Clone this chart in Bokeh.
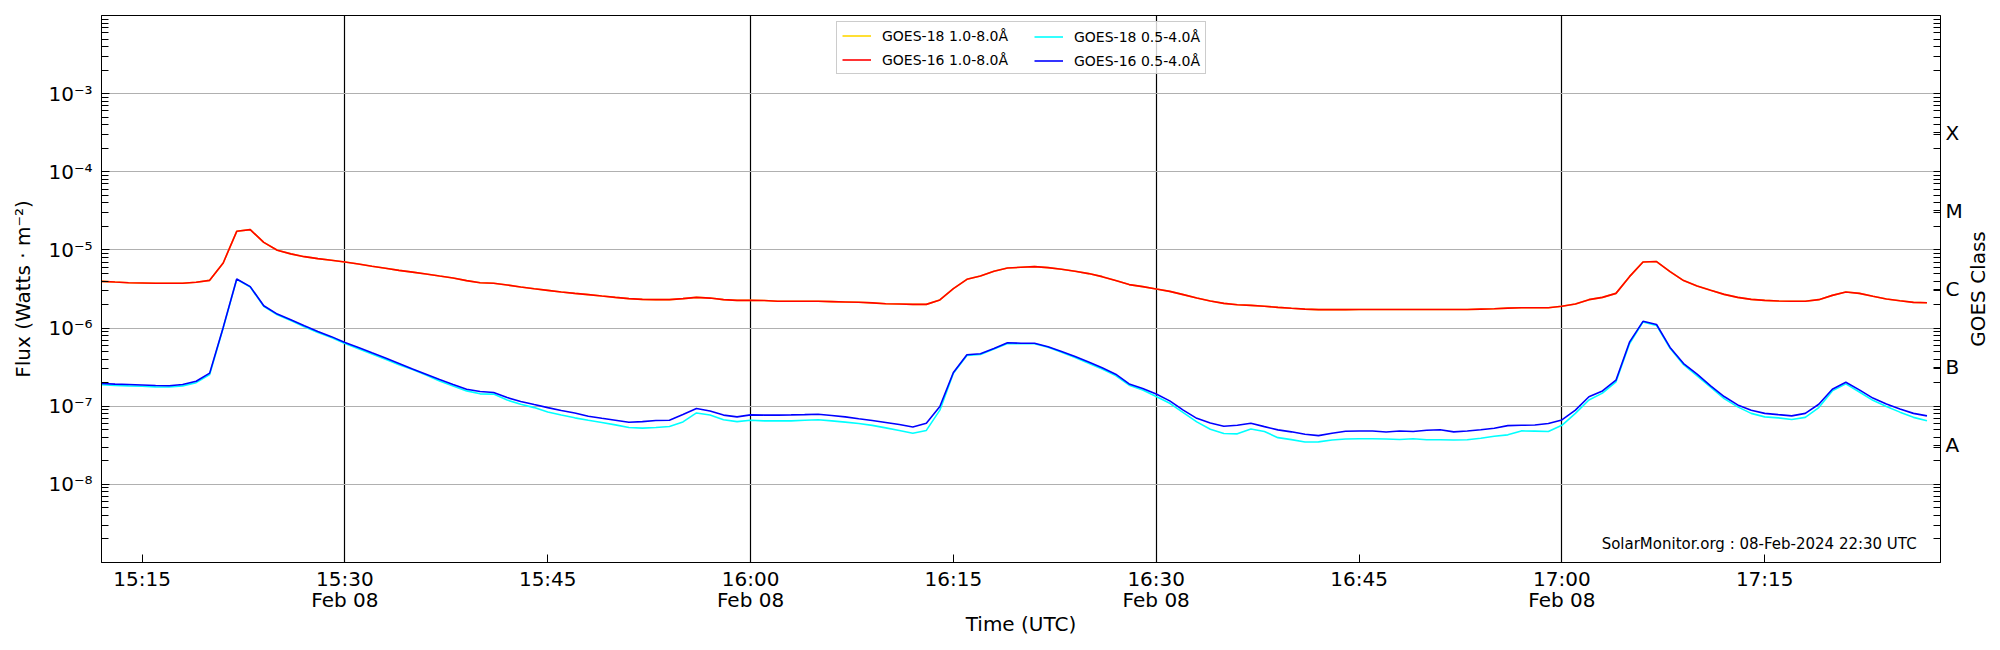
import math
import pandas as pd
from bokeh.plotting import figure
from bokeh.models import (Range1d, LogAxis, FixedTicker, CustomJSTickFormatter,
                          Legend, LegendItem, Label, ColumnDataSource)
from bokeh.embed import file_html
from bokeh.resources import INLINE

# ---------------- data (1-minute samples, 15:12 .. 17:27 UTC, 08 Feb 2024) ----------------
start_time = "2024-02-08 15:12"
n_points = 136

goes16_long = [
    3.96e-6, 3.88e-6, 3.81e-6, 3.78e-6, 3.74e-6, 3.74e-6, 3.74e-6, 3.85e-6, 4.08e-6, 6.81e-6,
    1.73e-5, 1.82e-5, 1.25e-5, 9.9e-6, 8.9e-6, 8.2e-6, 7.74e-6, 7.37e-6, 7.0e-6, 6.6e-6,
    6.18e-6, 5.82e-6, 5.48e-6, 5.2e-6, 4.93e-6, 4.64e-6, 4.38e-6, 4.05e-6, 3.81e-6, 3.74e-6,
    3.56e-6, 3.36e-6, 3.19e-6, 3.04e-6, 2.89e-6, 2.78e-6, 2.68e-6, 2.57e-6, 2.47e-6, 2.38e-6,
    2.33e-6, 2.31e-6, 2.31e-6, 2.38e-6, 2.47e-6, 2.42e-6, 2.31e-6, 2.26e-6, 2.26e-6, 2.25e-6,
    2.2e-6, 2.2e-6, 2.2e-6, 2.2e-6, 2.18e-6, 2.16e-6, 2.14e-6, 2.1e-6, 2.05e-6, 2.03e-6,
    2.01e-6, 2.01e-6, 2.29e-6, 3.19e-6, 4.21e-6, 4.64e-6, 5.33e-6, 5.87e-6, 6.0e-6, 6.11e-6,
    5.94e-6, 5.65e-6, 5.33e-6, 4.98e-6, 4.55e-6, 4.05e-6, 3.6e-6, 3.39e-6, 3.16e-6, 2.95e-6,
    2.68e-6, 2.42e-6, 2.22e-6, 2.07e-6, 1.99e-6, 1.95e-6, 1.9e-6, 1.84e-6, 1.79e-6, 1.75e-6,
    1.72e-6, 1.72e-6, 1.72e-6, 1.73e-6, 1.73e-6, 1.73e-6, 1.73e-6, 1.73e-6, 1.73e-6, 1.73e-6,
    1.73e-6, 1.73e-6, 1.75e-6, 1.77e-6, 1.8e-6, 1.82e-6, 1.82e-6, 1.82e-6, 1.9e-6, 2.03e-6,
    2.31e-6, 2.47e-6, 2.78e-6, 4.55e-6, 7.02e-6, 7.1e-6, 5.28e-6, 4.05e-6, 3.45e-6, 3.04e-6,
    2.7e-6, 2.47e-6, 2.33e-6, 2.26e-6, 2.22e-6, 2.2e-6, 2.2e-6, 2.31e-6, 2.62e-6, 2.9e-6,
    2.78e-6, 2.55e-6, 2.36e-6, 2.24e-6, 2.13e-6, 2.11e-6,
]

# GOES-18 long channel lies underneath the GOES-16 long channel (hidden in the picture)
goes18_long = list(goes16_long)

goes16_short = [
    1.95e-7, 1.92e-7, 1.9e-7, 1.87e-7, 1.84e-7, 1.83e-7, 1.9e-7, 2.09e-7, 2.65e-7, 1.02e-6,
    4.25e-6, 3.39e-6, 1.93e-6, 1.51e-6, 1.28e-6, 1.07e-6, 9.06e-7, 7.77e-7, 6.55e-7, 5.64e-7,
    4.83e-7, 4.14e-7, 3.53e-7, 3.0e-7, 2.57e-7, 2.2e-7, 1.9e-7, 1.65e-7, 1.54e-7, 1.5e-7,
    1.29e-7, 1.15e-7, 1.05e-7, 9.6e-8, 8.8e-8, 8.2e-8, 7.45e-8, 7.0e-8, 6.62e-8, 6.24e-8,
    6.35e-8, 6.55e-8, 6.62e-8, 7.82e-8, 9.33e-8, 8.7e-8, 7.7e-8, 7.3e-8, 7.74e-8, 7.7e-8,
    7.7e-8, 7.74e-8, 7.8e-8, 7.9e-8, 7.6e-8, 7.3e-8, 6.9e-8, 6.55e-8, 6.18e-8, 5.82e-8,
    5.43e-8, 6.06e-8, 9.9e-8, 2.7e-7, 4.55e-7, 4.7e-7, 5.48e-7, 6.48e-7, 6.4e-7, 6.4e-7,
    5.77e-7, 5.02e-7, 4.34e-7, 3.67e-7, 3.1e-7, 2.57e-7, 1.93e-7, 1.68e-7, 1.43e-7, 1.17e-7,
    8.9e-8, 7.0e-8, 6.1e-8, 5.54e-8, 5.7e-8, 6.05e-8, 5.48e-8, 4.98e-8, 4.7e-8, 4.37e-8,
    4.2e-8, 4.5e-8, 4.78e-8, 4.82e-8, 4.82e-8, 4.67e-8, 4.82e-8, 4.75e-8, 4.92e-8, 5.0e-8,
    4.7e-8, 4.82e-8, 5.0e-8, 5.23e-8, 5.65e-8, 5.7e-8, 5.75e-8, 6.0e-8, 6.68e-8, 8.9e-8,
    1.32e-7, 1.57e-7, 2.15e-7, 6.6e-7, 1.22e-6, 1.11e-6, 5.65e-7, 3.52e-7, 2.57e-7, 1.82e-7,
    1.33e-7, 1.04e-7, 8.9e-8, 8.1e-8, 7.8e-8, 7.52e-8, 8.1e-8, 1.06e-7, 1.65e-7, 2.03e-7,
    1.62e-7, 1.27e-7, 1.07e-7, 9.2e-8, 8.1e-8, 7.52e-8,
]

goes18_short = [
    1.88e-7, 1.85e-7, 1.82e-7, 1.8e-7, 1.77e-7, 1.76e-7, 1.82e-7, 2.0e-7, 2.55e-7, 1.0e-6,
    4.2e-6, 3.35e-6, 1.9e-6, 1.48e-6, 1.25e-6, 1.04e-6, 8.8e-7, 7.55e-7, 6.35e-7, 5.45e-7,
    4.65e-7, 3.98e-7, 3.4e-7, 2.95e-7, 2.5e-7, 2.1e-7, 1.82e-7, 1.57e-7, 1.44e-7, 1.43e-7,
    1.2e-7, 1.06e-7, 9.6e-8, 8.45e-8, 7.7e-8, 7.1e-8, 6.62e-8, 6.2e-8, 5.77e-8, 5.33e-8,
    5.25e-8, 5.33e-8, 5.5e-8, 6.3e-8, 8.2e-8, 7.7e-8, 6.7e-8, 6.35e-8, 6.62e-8, 6.5e-8,
    6.5e-8, 6.5e-8, 6.62e-8, 6.7e-8, 6.5e-8, 6.25e-8, 6.0e-8, 5.68e-8, 5.28e-8, 4.9e-8,
    4.51e-8, 4.9e-8, 8.9e-8, 2.65e-7, 4.45e-7, 4.6e-7, 5.38e-7, 6.35e-7, 6.3e-7, 6.3e-7,
    5.67e-7, 4.9e-7, 4.2e-7, 3.55e-7, 3.0e-7, 2.47e-7, 1.86e-7, 1.61e-7, 1.33e-7, 1.09e-7,
    8.3e-8, 6.3e-8, 5.07e-8, 4.47e-8, 4.43e-8, 5.12e-8, 4.74e-8, 3.96e-8, 3.74e-8, 3.49e-8,
    3.5e-8, 3.7e-8, 3.81e-8, 3.84e-8, 3.84e-8, 3.81e-8, 3.75e-8, 3.84e-8, 3.72e-8, 3.72e-8,
    3.7e-8, 3.72e-8, 3.9e-8, 4.12e-8, 4.3e-8, 4.83e-8, 4.8e-8, 4.75e-8, 5.7e-8, 8.1e-8,
    1.2e-7, 1.47e-7, 2.05e-7, 6.3e-7, 1.2e-6, 1.08e-6, 5.5e-7, 3.4e-7, 2.45e-7, 1.75e-7,
    1.25e-7, 9.8e-8, 8.1e-8, 7.3e-8, 7.1e-8, 6.75e-8, 7.2e-8, 9.6e-8, 1.57e-7, 1.93e-7,
    1.52e-7, 1.19e-7, 9.9e-8, 8.4e-8, 7.2e-8, 6.5e-8,
]

series_labels = ["GOES-18 1.0-8.0Å", "GOES-16 1.0-8.0Å", "GOES-18 0.5-4.0Å", "GOES-16 0.5-4.0Å"]
series_colors = ["gold", "red", "cyan", "blue"]
class_labels = ["A", "B", "C", "M", "X"]
month_names = ["Jan", "Feb", "Mar", "Apr", "May", "Jun", "Jul", "Aug", "Sep", "Oct", "Nov", "Dec"]
stamp_text = "SolarMonitor.org : 08-Feb-2024 22:30 UTC"
right_title = "GOES Class"

x_start = pd.Timestamp("2024-02-08 15:12:00")
x_end = pd.Timestamp("2024-02-08 17:28:00")
y_lo, y_hi = 1e-9, 1e-2

# ---------------- derived ----------------
times = pd.date_range(start_time, periods=n_points, freq="min")


def ms(ts):
    return ts.value / 1e6


major_x = [ms(t) for t in pd.date_range("2024-02-08 15:15", "2024-02-08 17:15", freq="15min")]
grid_x = [ms(t) for t in pd.date_range("2024-02-08 15:30", "2024-02-08 17:00", freq="30min")]
decades = [10.0 ** e for e in range(-8, -2)]
minors = [k * 10.0 ** e for e in range(-9, -2) for k in range(2, 10)]
class_centers = [10.0 ** (-7.5 + i) for i in range(len(class_labels))]
y_mid = 10.0 ** ((math.log10(y_lo) + math.log10(y_hi)) / 2)

FONT = "DejaVu Sans"

src = ColumnDataSource(dict(t=times, g18l=goes18_long, g16l=goes16_long,
                            g18s=goes18_short, g16s=goes16_short))

p = figure(x_axis_type="datetime", y_axis_type="log",
           x_range=Range1d(ms(x_start), ms(x_end)), y_range=Range1d(y_lo, y_hi),
           frame_width=1839, frame_height=547,
           min_border_left=101, min_border_right=58, min_border_top=15, min_border_bottom=86,
           output_backend="svg", toolbar_location=None,
           background_fill_color="white", border_fill_color="white")

p.outline_line_color = "black"
p.outline_line_width = 1

# grids
p.ygrid.ticker = FixedTicker(ticks=decades)
p.ygrid.grid_line_color = "#b0b0b0"
p.ygrid.grid_line_width = 1
p.xgrid.ticker = FixedTicker(ticks=grid_x)
p.xgrid.grid_line_color = "black"
p.xgrid.grid_line_width = 1.2

# lines
renderers = []
for col, color in zip(["g18l", "g16l", "g18s", "g16s"], series_colors):
    r = p.line("t", col, source=src, line_color=color, line_width=1.6)
    renderers.append(r)

# x axis
xa = p.xaxis[0]
xa.ticker = FixedTicker(ticks=major_x)
xa.formatter = CustomJSTickFormatter(args=dict(months=month_names), code=r"""
const d = new Date(tick);
const h = String(d.getUTCHours()).padStart(2, "0");
const m = String(d.getUTCMinutes()).padStart(2, "0");
let s = h + ":" + m;
if (d.getUTCMinutes() % 30 == 0) {
  s += "\n" + months[d.getUTCMonth()] + " " + String(d.getUTCDate()).padStart(2, "0");
}
return s;
""")
xa.major_tick_in = 8
xa.major_tick_out = 0
xa.minor_tick_in = 0
xa.minor_tick_out = 0
xa.major_label_standoff = 4
xa.major_label_text_font = FONT
xa.major_label_text_font_size = "20px"
xa.major_label_text_line_height = 0.9
xa.major_label_text_color = "black"
xa.axis_label = "Time (UTC)"
xa.axis_label_text_font = FONT
xa.axis_label_text_font_size = "20px"
xa.axis_label_text_font_style = "normal"
xa.axis_label_text_color = "black"
xa.axis_label_standoff = -3
xa.axis_line_color = "black"

# left y axis
sup_code = r"""
const sup = {"-": "\u207b", "0": "\u2070", "1": "\u00b9", "2": "\u00b2", "3": "\u00b3",
             "4": "\u2074", "5": "\u2075", "6": "\u2076", "7": "\u2077", "8": "\u2078", "9": "\u2079"};
const e = Math.round(Math.log10(tick));
return "10" + String(e).split("").map(c => sup[c]).join("");
"""
ya = p.yaxis[0]
ya.ticker = FixedTicker(ticks=decades, minor_ticks=minors)
ya.formatter = CustomJSTickFormatter(code=sup_code)
ya.major_tick_in = 8
ya.major_tick_out = 0
ya.minor_tick_in = 7
ya.minor_tick_out = 0
ya.major_label_standoff = 9
ya.major_label_text_font = FONT
ya.major_label_text_font_size = "20px"
ya.major_label_text_color = "black"
ya.axis_label = "Flux (Watts · m⁻²)"
ya.axis_label_text_font = FONT
ya.axis_label_text_font_size = "20px"
ya.axis_label_text_font_style = "normal"
ya.axis_label_text_color = "black"
ya.axis_label_standoff = 10
ya.axis_line_color = "black"

# right axis: GOES classes
ra = LogAxis(ticker=FixedTicker(ticks=class_centers, minor_ticks=decades + minors),
             formatter=CustomJSTickFormatter(args=dict(labels=class_labels),
                                             code="return labels[Math.round(Math.log10(tick) + 7.5)];"))
ra.major_tick_in = 7
ra.major_tick_out = 0
ra.minor_tick_in = 7
ra.minor_tick_out = 0
ra.major_label_standoff = 5
ra.major_label_text_font = FONT
ra.major_label_text_font_size = "20px"
ra.major_label_text_color = "black"
ra.axis_line_color = "black"
p.add_layout(ra, "right")

# right-hand title (reads bottom to top), placed in its own side panel
rt = Label(x=12, x_units="screen", y=y_mid, y_units="data", text=right_title, angle=math.pi / 2,
           text_align="center", text_baseline="middle",
           text_font=FONT, text_font_size="20px", text_color="black")
p.add_layout(rt, "right")

# legends (two columns inside one box)
common = dict(padding=5, spacing=7, glyph_width=29, glyph_height=17, label_height=17,
              label_standoff=11, label_text_font=FONT, label_text_font_size="14px",
              label_text_color="black", margin=0)
legA = Legend(items=[LegendItem(label=series_labels[0], renderers=[renderers[0]]),
                     LegendItem(label=series_labels[1], renderers=[renderers[1]])],
              location=(735, 488), label_width=318,
              border_line_color="#cccccc", border_line_width=1, border_line_alpha=1.0,
              background_fill_color="white", background_fill_alpha=0.8, **common)
legB = Legend(items=[LegendItem(label=series_labels[2], renderers=[renderers[2]]),
                     LegendItem(label=series_labels[3], renderers=[renderers[3]])],
              location=(928, 488), label_width=0,
              border_line_alpha=0, background_fill_alpha=0, **common)
p.add_layout(legA, "center")
p.add_layout(legB, "center")

# stamp text
stamp = Label(x=ms(x_end) - 106000, y=10 ** -8.757, text=stamp_text,
              text_align="right", text_baseline="middle",
              text_font=FONT, text_font_size="15px", text_color="black")
p.add_layout(stamp)

open("out.html", "w", encoding="utf-8").write(file_html(p, INLINE))
